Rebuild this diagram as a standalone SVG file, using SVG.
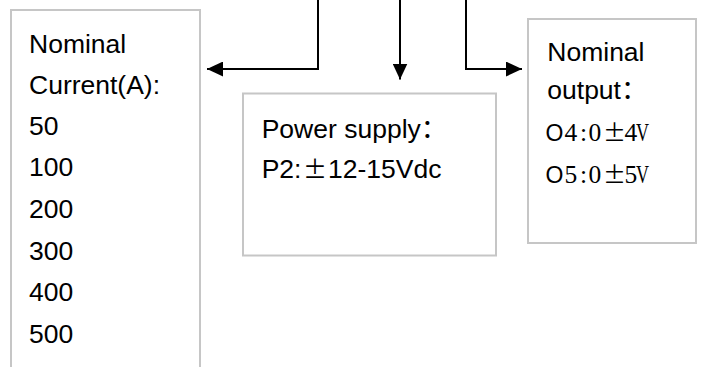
<svg xmlns="http://www.w3.org/2000/svg" width="701" height="367" viewBox="0 0 701 367">
<style>
.box{fill:#ffffff;stroke:#c6c6c6;stroke-width:2}
.t{font-family:"Liberation Sans","Noto Sans CJK SC",sans-serif;font-size:26.5px;fill:#000}
.o{font-family:"Liberation Serif","Noto Sans CJK SC",serif;font-size:25.5px;fill:#000}
.pm{font-family:"Noto Sans CJK SC",sans-serif;font-feature-settings:"fwid";fill:#000}
.wire{fill:none;stroke:#000;stroke-width:2}
</style>
<defs>
<marker id="arr" markerUnits="userSpaceOnUse" markerWidth="16" markerHeight="15" refX="16" refY="7.5" orient="auto">
<path d="M0,0 L16,7.5 L0,15 Z" fill="#000"/>
</marker>
</defs>
<rect width="701" height="367" fill="#ffffff"/>
<g id="current">
<rect class="box" x="11" y="10" width="189" height="400"/>
<text class="t" x="29" y="52.5">Nominal</text>
<text class="t" x="29" y="93.5">Current(A):</text>
<text class="t" x="29" y="134.8">50</text>
<text class="t" x="29" y="176.4">100</text>
<text class="t" x="29" y="218">200</text>
<text class="t" x="29" y="259.6">300</text>
<text class="t" x="29" y="301.2">400</text>
<text class="t" x="29" y="342.8">500</text>
</g>
<g id="power">
<rect class="box" x="243" y="93.5" width="253" height="162"/>
<text class="t" x="261.7" y="137.5">Power supply：</text>
<text class="t" y="178"><tspan x="261.7">P2:</tspan><tspan class="pm" x="303" font-size="24">±</tspan><tspan x="328">12-15Vdc</tspan></text>
</g>
<g id="output">
<rect class="box" x="528" y="19" width="168" height="224"/>
<text class="t" x="547.3" y="60.5">Nominal</text>
<text class="t" x="547.3" y="99">output：</text>
<text class="o" y="141.3"><tspan x="545.5" font-family="Liberation Sans" font-size="23">O</tspan><tspan x="564.5">4</tspan><tspan x="580">:</tspan><tspan x="588.5">0</tspan><tspan class="pm" font-size="23" x="603">±</tspan><tspan x="624.5">4</tspan><tspan x="636" textLength="13" lengthAdjust="spacingAndGlyphs">V</tspan></text>
<text class="o" y="183"><tspan x="545.5" font-family="Liberation Sans" font-size="23">O</tspan><tspan x="564.5">5</tspan><tspan x="580">:</tspan><tspan x="588.5">0</tspan><tspan class="pm" font-size="23" x="603">±</tspan><tspan x="624.5">5</tspan><tspan x="636" textLength="13" lengthAdjust="spacingAndGlyphs">V</tspan></text>
</g>
<g id="connectors">
<polyline class="wire" points="318,0 318,69 207,69" marker-end="url(#arr)"/>
<polyline class="wire" points="400,0 400,79.5" marker-end="url(#arr)"/>
<polyline class="wire" points="466,0 466,69 522,69" marker-end="url(#arr)"/>
</g>
</svg>
